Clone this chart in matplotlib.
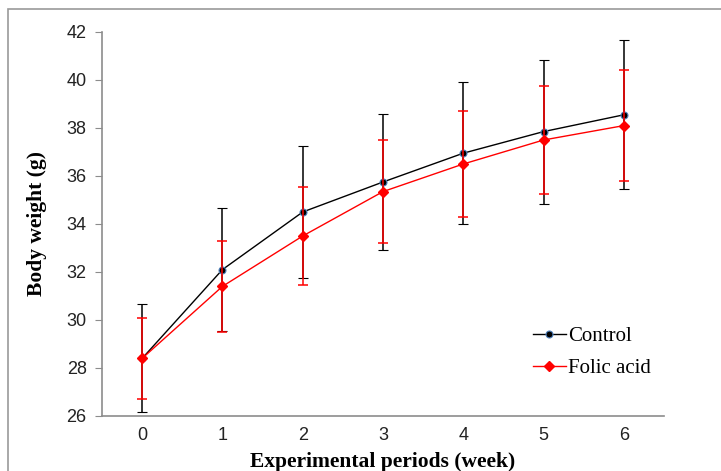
import matplotlib

matplotlib.use("Agg")

import matplotlib.pyplot as plt
from matplotlib.patches import Rectangle

weeks = [0, 1, 2, 3, 4, 5, 6]
control = [28.4, 32.1, 34.5, 35.75, 36.95, 37.85, 38.55]
control_sd = [2.25, 2.55, 2.75, 2.85, 2.95, 3.0, 3.1]
folic = [28.4, 31.4, 33.5, 35.35, 36.5, 37.5, 38.1]
folic_sd = [1.7, 1.9, 2.05, 2.15, 2.2, 2.25, 2.3]
y_ticks = [26, 28, 30, 32, 34, 36, 38, 40, 42]

fig = plt.figure(figsize=(7.21, 4.71), dpi=100)
ax = fig.add_axes([102 / 721, 1 - 416 / 471, 562 / 721, 384 / 471])

# outer chart frame
fig.patches.append(Rectangle((8 / 721, -0.1), 1.2, 1.1 - 9 / 471,
                             transform=fig.transFigure, fill=False,
                             edgecolor="#9a9a9a", linewidth=1.2))

ax.errorbar(weeks, control, yerr=control_sd, color="black", linewidth=1.0,
            marker="o", markersize=5, markerfacecolor="black",
            markeredgecolor="#4f81bd", markeredgewidth=0.8,
            elinewidth=1.1, capsize=3.6, capthick=1.1, label="Control", zorder=2)
ax.errorbar(weeks, folic, yerr=folic_sd, color="#ff0000", linewidth=1.0,
            marker="D", markersize=5.5, markerfacecolor="#ff0000",
            markeredgecolor="#ff0000",
            elinewidth=1.1, capsize=3.6, capthick=1.1, label="Folic acid", zorder=3)

ax.set_xlim(-0.5, 6.5)
ax.set_ylim(26, 42)
ax.set_xticks(weeks)
ax.set_yticks(y_ticks)
for side in ["top", "right"]:
    ax.spines[side].set_visible(False)
for side in ["left", "bottom"]:
    ax.spines[side].set_color("#8c8c8c")
    ax.spines[side].set_linewidth(1.2)
ax.tick_params(axis="x", length=0, pad=8, labelsize=13)
ax.tick_params(axis="y", length=5, color="#8c8c8c", pad=6, labelsize=13)
for lbl in ax.get_xticklabels() + ax.get_yticklabels():
    lbl.set_family("Liberation Sans")
    lbl.set_color("#222222")

ax.set_xlabel("Experimental periods (week)", family="Liberation Serif",
              fontweight="bold", fontsize=15.5, labelpad=6)
ax.set_ylabel("Body weight (g)", family="Liberation Serif",
              fontweight="bold", fontsize=15.5, labelpad=14)

handles, labels = ax.get_legend_handles_labels()
handles = [h[0] for h in handles]
ax.legend(handles, labels, loc="lower right", bbox_to_anchor=(1.01, 0.05),
          frameon=False, prop={"family": "Liberation Serif", "size": 15},
          handlelength=1.6, handletextpad=0.1, labelspacing=0.6)

fig.savefig("out.png", dpi=100)
